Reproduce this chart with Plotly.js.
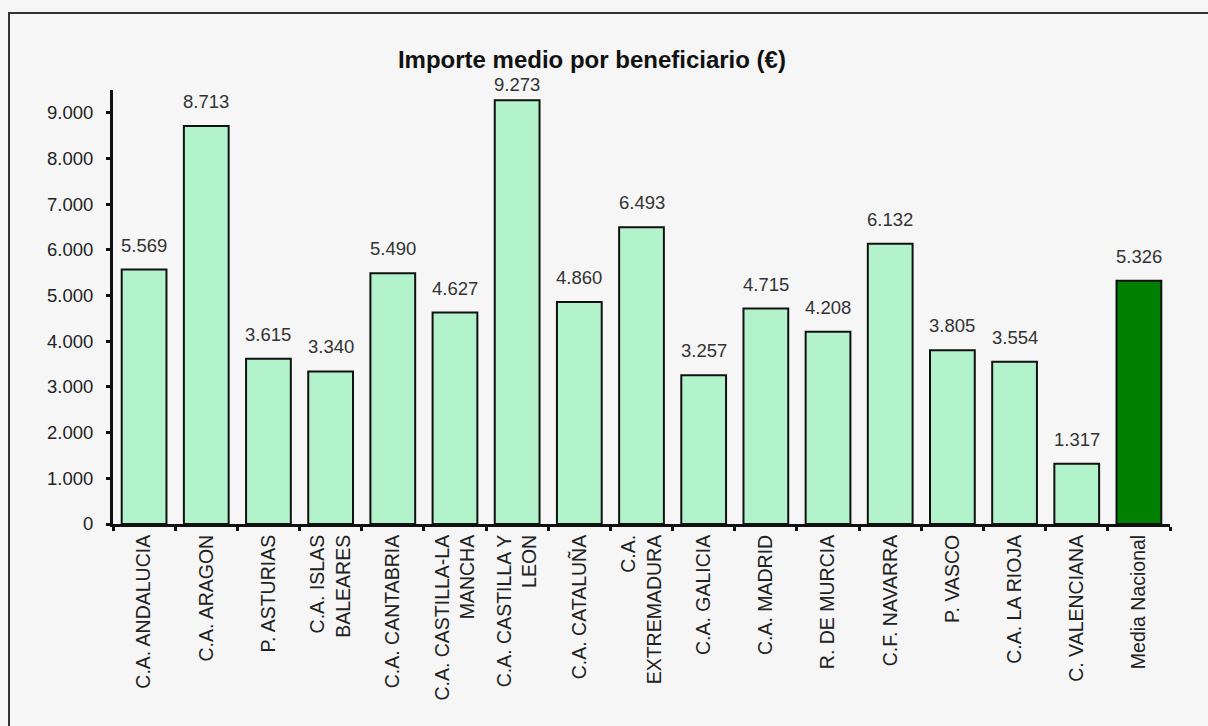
<!DOCTYPE html>
<html>
<head>
<meta charset="utf-8">
<script src="https://cdn.plot.ly/plotly-3.0.1.min.js"></script>
<style>
  html, body { margin: 0; padding: 0; background: #f6f6f6; }
  #chart { width: 1208px; height: 726px; position: absolute; left: 0; top: 0; }
  #frame { position: absolute; left: 8px; top: 12px; width: 1240px; height: 760px;
           border: 2px solid #333; pointer-events: none; }
</style>
</head>
<body>
<div id="chart"></div>
<div id="frame"></div>
<script>
const categories = [
  "C.A. ANDALUCIA", "C.A. ARAGON", "P. ASTURIAS", "C.A. ISLAS<br>BALEARES",
  "C.A. CANTABRIA", "C.A. CASTILLA-LA<br>MANCHA", "C.A. CASTILLA Y<br>LEON",
  "C.A. CATALUÑA", "C.A.<br>EXTREMADURA", "C.A. GALICIA", "C.A. MADRID",
  "R. DE MURCIA", "C.F. NAVARRA", "P. VASCO", "C.A. LA RIOJA",
  "C. VALENCIANA", "Media Nacional"
];
const values = [5569, 8713, 3615, 3340, 5490, 4627, 9273, 4860, 6493, 3257, 4715, 4208, 6132, 3805, 3554, 1317, 5326];
const valueLabels = ["5.569", "8.713", "3.615", "3.340", "5.490", "4.627", "9.273", "4.860", "6.493", "3.257", "4.715", "4.208", "6.132", "3.805", "3.554", "1.317", "5.326"];
const tickValues = [0, 1000, 2000, 3000, 4000, 5000, 6000, 7000, 8000, 9000];
const tickLabels = ["0", "1.000", "2.000", "3.000", "4.000", "5.000", "6.000", "7.000", "8.000", "9.000"];
const nationalCategory = "Media Nacional";

const fontFam = "Liberation Sans, Arial, sans-serif";
const colors = categories.map(c => c === nationalCategory ? "#008000" : "#b2f3cb");
const yMax = 9500;

const trace = {
  type: "bar",
  x: categories,
  y: values,
  marker: { color: colors, line: { color: "#111", width: 2 } },
  hoverinfo: "none"
};

// labels sit ~13px above each bar, except near the top of the axis where space is tight
const annotations = categories.map((c, i) => ({
  x: c, y: values[i], xref: "x", yref: "y",
  text: valueLabels[i], showarrow: false,
  yanchor: "bottom", yshift: values[i] > 9000 ? 3 : 12,
  font: { family: fontFam, size: 18.5, color: "#333" }
}));

const layout = {
  width: 1208, height: 726,
  margin: { l: 113, r: 38, t: 90, b: 202 },
  paper_bgcolor: "#f6f6f6",
  plot_bgcolor: "#f6f6f6",
  bargap: 0.28,
  showlegend: false,
  title: {
    text: "<b>Importe medio por beneficiario (€)</b>",
    x: 0.49, xanchor: "center", y: 0.918, yanchor: "middle",
    font: { family: fontFam, size: 24, color: "#111" }
  },
  xaxis: {
    type: "category",
    tickangle: -90,
    showline: true, linecolor: "#111", linewidth: 3,
    ticks: "outside", ticklen: 4, tickwidth: 3, tickcolor: "#111",
    tickson: "boundaries",
    showgrid: false, zeroline: false,
    tickfont: { family: fontFam, size: 19.5, color: "#222" },
    fixedrange: true
  },
  yaxis: {
    range: [0, yMax],
    tickvals: tickValues, ticktext: tickLabels,
    showline: true, linecolor: "#111", linewidth: 3,
    ticks: "outside", ticklen: 4, tickwidth: 3, tickcolor: "#111",
    ticklabelstandoff: 9,
    showgrid: false, zeroline: false,
    tickfont: { family: fontFam, size: 18.5, color: "#222" },
    fixedrange: true
  },
  annotations: annotations
};

Plotly.newPlot("chart", [trace], layout, { displayModeBar: false, staticPlot: true });
</script>
</body>
</html>
